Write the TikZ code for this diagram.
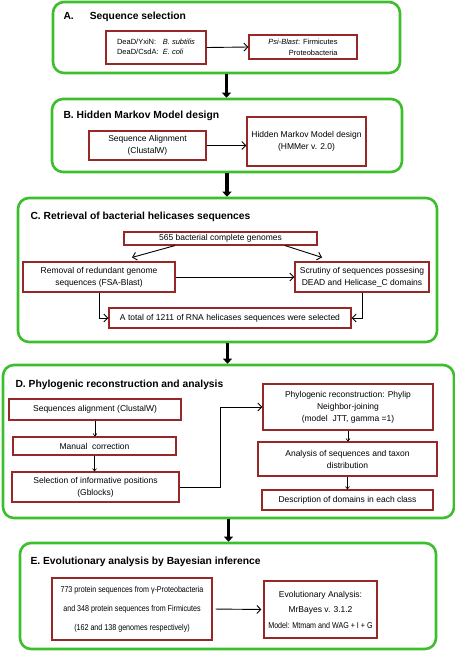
\documentclass[tikz,border=0pt]{standalone}
\usepackage{fontspec}
\setmainfont{Liberation Sans}
\newfontfamily\narrowfont[FakeStretch=0.84]{Liberation Sans}
\usetikzlibrary{arrows.meta}
\definecolor{stagegreen}{RGB}{60,190,45}
\definecolor{boxred}{RGB}{150,40,40}

\begin{document}
\begin{tikzpicture}[x=1pt,y=-1pt,
    stage/.style={draw=stagegreen,line width=2.6pt,rounded corners=11pt,inner sep=0pt},
    title/.style={anchor=west,font=\fontsize{10.3}{12}\selectfont\bfseries},
    stepbox/.style={draw=boxred,line width=1.1pt,inner sep=0pt,align=center,font=\fontsize{8.5}{12}\selectfont},
    link/.style={-{Straight Barb[length=4pt,width=8pt]},line width=0.9pt},
    small/.style={-{Straight Barb[length=2.5pt,width=4pt]},line width=0.6pt},
    bigarrow/.style={-{Triangle[length=5pt,width=9pt]},line width=3.5pt}]
    \useasboundingbox (0,0) rectangle (455,651);
    % stages
    \node[stage,minimum width=347pt,minimum height=71pt] (A) at (226.5,37.5) {};
    \node[stage,minimum width=350pt,minimum height=73pt] (B) at (227,135.5) {};
    \node[stage,minimum width=419pt,minimum height=144pt] (C) at (227.5,270) {};
    \node[stage,minimum width=451pt,minimum height=153pt] (D) at (228.5,441.5) {};
    \node[stage,minimum width=416pt,minimum height=106pt] (E) at (228,596) {};
    \node[title] (At) at (60,17) {A.\hspace{16pt}Sequence selection};
    \node[title] (Bt) at (60,116) {B. Hidden Markov Model design};
    \node[title] (Ct) at (27,217) {C. Retrieval of bacterial helicases sequences};
    \node[title] (Dt) at (12,385) {D. Phylogenic reconstruction and analysis};
    \node[title] (Et) at (27,562) {E. Evolutionary analysis by Bayesian inference};
    \draw[bigarrow] (A.south) -- (A.south |- B.north);
    \draw[bigarrow] (B.south) -- (B.south |- C.north);
    \draw[bigarrow] (C.south) -- (C.south |- D.north);
    \draw[bigarrow] (D.south) -- (D.south |- E.north);
    % A
    \node[stepbox,minimum width=100pt,minimum height=33pt,font=\fontsize{7.5}{12}\selectfont] (A1) at (156,47.5)
        {\begin{tabular}{@{}l@{\ \ }l@{}}DeaD/YxiN: & \textit{B. subtilis}\\[-2pt] DeaD/CsdA: & \textit{E. coli}\end{tabular}};
    \node[stepbox,minimum width=108pt,minimum height=24pt,align=right,font=\fontsize{7.5}{12}\selectfont] (A2) at (303,47)
        {\textit{Psi-Blast}: Firmicutes\\[-1pt] Proteobacteria};
    \draw[link] (A1.east) -- (A2.west);
    % B
    \node[stepbox,minimum width=117pt,minimum height=29pt] (B1) at (147.5,145.5) {Sequence Alignment\\(ClustalW)};
    \node[stepbox,minimum width=119pt,minimum height=49pt] (B2) at (306.5,141.5) {Hidden Markov Model design\\(HMMer v. 2.0)};
    \draw[link] (B1.east) -- (B1.east -| B2.west);
    % C
    \node[stepbox,minimum width=193pt,minimum height=13pt] (C1) at (220.5,238.5) {565 bacterial complete genomes};
    \node[stepbox,minimum width=152pt,minimum height=30pt] (C2) at (99,277) {Removal of redundant genome\\sequences (FSA-Blast)};
    \node[stepbox,minimum width=134pt,minimum height=30pt] (C3) at (362,277) {Scrutiny of sequences possesing\\DEAD and Helicase\_C domains};
    \node[stepbox,minimum width=242pt,minimum height=20pt] (C4) at (230,318) {A total of 1211 of RNA helicases sequences were selected};
    \draw[link] ([xshift=-45.5pt]C1.south) -- ([xshift=33pt,yshift=4pt]C2.north);
    \draw[link] ([xshift=64.5pt]C1.south) -- ([xshift=-40pt,yshift=4pt]C3.north);
    \draw[link] (C2.east) -- (C3.west);
    \draw[link] (C2.south) |- (C4.west);
    \draw[link] (C3.south) |- (C4.east);
    % D
    \node[stepbox,minimum width=172pt,minimum height=21pt] (D1) at (95,409.5) {Sequences alignment (ClustalW)};
    \node[stepbox,minimum width=163pt,minimum height=18pt] (D2) at (94.5,446) {Manual\ \ correction};
    \node[stepbox,minimum width=167pt,minimum height=30pt] (D3) at (95.5,487) {Selection of informative positions\\(Gblocks)};
    \node[stepbox,minimum width=170pt,minimum height=46pt] (D4) at (348,407) {Phylogenic reconstruction: Phylip\\Neighbor-joining\\(model\ \ JTT, gamma =1)};
    \node[stepbox,minimum width=179pt,minimum height=34pt] (D5) at (347.5,459) {Analysis of sequences and taxon\\distribution};
    \node[stepbox,minimum width=171pt,minimum height=20pt] (D6) at (347.5,500) {Description of domains in each class};
    \draw[small] (D1.south) -- (D1.south |- D2.north);
    \draw[small] (D2.south) -- (D2.south |- D3.north);
    \draw[small] (D4.south) -- (D4.south |- D5.north);
    \draw[small] (D5.south) -- (D5.south |- D6.north);
    \draw[link] (D3.east) -- ++(41,0) |- (D4.west);
    % E
    \node[stepbox,minimum width=160pt,minimum height=62pt,font=\fontsize{8.5}{19}\narrowfont] (E1) at (132,609)
        {773 protein sequences from γ-Proteobacteria\\and 348 protein sequences from Firmicutes\\(162 and 138 genomes respectively)};
    \node[stepbox,minimum width=113pt,minimum height=57pt,font=\fontsize{8.5}{15.5}\selectfont] (E2) at (320.5,609.5)
        {Evolutionary Analysis:\\MrBayes v. 3.1.2\\{\narrowfont Model: Mtmam and WAG + I + G}};
    \draw[link,shorten <=3pt,shorten >=2pt] (E1.east) -- (E2.west);
\end{tikzpicture}
\end{document}
